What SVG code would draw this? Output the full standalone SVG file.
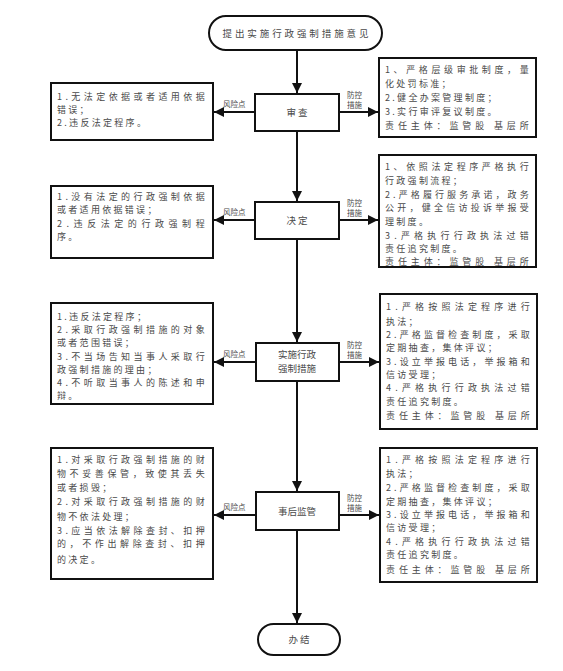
<svg xmlns="http://www.w3.org/2000/svg" width="563" height="671" viewBox="0 0 563 671">
<style>
text{font-family:"Noto Sans CJK SC","Noto Sans",sans-serif;fill:#4a4a4a;}
.t{font-size:9px;letter-spacing:2.3px;}
.lbl{font-size:9.5px;text-anchor:middle;}
.s{font-size:7.5px;}
.box{fill:#fff;stroke:#111;stroke-width:2;}
.ln{stroke:#111;stroke-width:2;fill:none;}
</style>
<defs>
<marker id="ah" viewBox="0 0 10 10" refX="10" refY="5" markerWidth="5" markerHeight="5" orient="auto" markerUnits="strokeWidth">
<path d="M0,0 L10,5 L0,10 z" fill="#111"/>
</marker>
</defs>
<rect width="563" height="671" fill="#fff"/>
<g id="connectors">
<line class="ln" x1="297" y1="50" x2="297" y2="93" marker-end="url(#ah)"/>
<line class="ln" x1="297" y1="131" x2="297" y2="201" marker-end="url(#ah)"/>
<line class="ln" x1="297" y1="239" x2="297" y2="342" marker-end="url(#ah)"/>
<line class="ln" x1="297" y1="381" x2="297" y2="491" marker-end="url(#ah)"/>
<line class="ln" x1="297" y1="530" x2="297" y2="623" marker-end="url(#ah)"/>
<line class="ln" x1="255" y1="112" x2="214" y2="112" marker-end="url(#ah)"/>
<line class="ln" x1="339" y1="112" x2="378" y2="112" marker-end="url(#ah)"/>
<line class="ln" x1="255" y1="220" x2="214" y2="220" marker-end="url(#ah)"/>
<line class="ln" x1="339" y1="220" x2="378" y2="220" marker-end="url(#ah)"/>
<line class="ln" x1="256" y1="362" x2="214" y2="362" marker-end="url(#ah)"/>
<line class="ln" x1="339" y1="362" x2="379" y2="362" marker-end="url(#ah)"/>
<line class="ln" x1="256" y1="515" x2="214" y2="515" marker-end="url(#ah)"/>
<line class="ln" x1="339" y1="515" x2="379" y2="515" marker-end="url(#ah)"/>
<text class="s" x="223" y="107">风险点</text>
<text class="s" x="347" y="98">防控</text>
<text class="s" x="347" y="108">措施</text>
<text class="s" x="223" y="215">风险点</text>
<text class="s" x="347" y="206">防控</text>
<text class="s" x="347" y="216">措施</text>
<text class="s" x="223" y="357">风险点</text>
<text class="s" x="347" y="348">防控</text>
<text class="s" x="347" y="358">措施</text>
<text class="s" x="223" y="510">风险点</text>
<text class="s" x="347" y="501">防控</text>
<text class="s" x="347" y="511">措施</text>
</g>
<g id="start">
<rect class="box" x="209" y="16" width="173" height="34" rx="17"/>
<text class="lbl" x="295.5" y="37" textLength="146" lengthAdjust="spacing">提出实施行政强制措施意见</text>
</g>
<g id="n1">
<rect class="box" x="255" y="94" width="84" height="37"/>
<text class="lbl" x="297" y="116">审 查</text>
</g>
<g id="n2">
<rect class="box" x="255" y="202" width="84" height="37"/>
<text class="lbl" x="297" y="224">决 定</text>
</g>
<g id="n3">
<rect class="box" x="256" y="343" width="83" height="38"/>
<text class="lbl" x="297" y="358">实施行政</text>
<text class="lbl" x="297" y="372">强制措施</text>
</g>
<g id="n4">
<rect class="box" x="256" y="492" width="83" height="38"/>
<text class="lbl" x="297" y="515">事后监管</text>
</g>
<g id="end">
<rect class="box" x="258" y="624" width="82" height="31" rx="15.5"/>
<text class="lbl" x="299" y="643">办 结</text>
</g>
<g id="r1">
<rect class="box" x="51" y="83" width="162" height="57"/>
<text class="t" x="57" y="100" textLength="150" lengthAdjust="spacing">1.无法定依据或者适用依据</text>
<text class="t" x="57" y="113">错误；</text>
<text class="t" x="57" y="126">2.违反法定程序。</text>
</g>
<g id="m1">
<rect class="box" x="379" y="58" width="157" height="79"/>
<text class="t" x="385" y="73" textLength="146" lengthAdjust="spacing">1、严格层级审批制度，量</text>
<text class="t" x="385" y="87">化处罚标准；</text>
<text class="t" x="385" y="101">2.健全办案管理制度；</text>
<text class="t" x="385" y="115">3.实行审评复议制度。</text>
<text class="t" x="385" y="129" textLength="146" lengthAdjust="spacing">责任主体：监管股 基层所</text>
</g>
<g id="r2">
<rect class="box" x="51" y="186" width="162" height="72"/>
<text class="t" x="57" y="200" textLength="150" lengthAdjust="spacing">1.没有法定的行政强制依据</text>
<text class="t" x="57" y="213">或者适用依据错误；</text>
<text class="t" x="57" y="227" textLength="150" lengthAdjust="spacing">2.违反法定的行政强制程</text>
<text class="t" x="57" y="240">序。</text>
</g>
<g id="m2">
<rect class="box" x="379" y="155" width="157" height="112"/>
<text class="t" x="385" y="170" textLength="146" lengthAdjust="spacing">1、依照法定程序严格执行</text>
<text class="t" x="385" y="184">行政强制流程；</text>
<text class="t" x="385" y="198" textLength="146" lengthAdjust="spacing">2.严格履行服务承诺，政务</text>
<text class="t" x="385" y="211" textLength="146" lengthAdjust="spacing">公开，健全信访投诉举报受</text>
<text class="t" x="385" y="225">理制度。</text>
<text class="t" x="385" y="239" textLength="146" lengthAdjust="spacing">3.严格执行行政执法过错</text>
<text class="t" x="385" y="252">责任追究制度。</text>
<text class="t" x="385" y="265" textLength="146" lengthAdjust="spacing">责任主体：监管股 基层所</text>
</g>
<g id="r3">
<rect class="box" x="51" y="303" width="162" height="101"/>
<text class="t" x="57" y="320">1.违反法定程序；</text>
<text class="t" x="57" y="333" textLength="150" lengthAdjust="spacing">2.采取行政强制措施的对象</text>
<text class="t" x="57" y="346">或者范围错误；</text>
<text class="t" x="57" y="360" textLength="150" lengthAdjust="spacing">3.不当场告知当事人采取行</text>
<text class="t" x="57" y="373">政强制措施的理由；</text>
<text class="t" x="57" y="386" textLength="150" lengthAdjust="spacing">4.不听取当事人的陈述和申</text>
<text class="t" x="57" y="399">辩。</text>
</g>
<g id="m3">
<rect class="box" x="380" y="294" width="157" height="135"/>
<text class="t" x="386" y="310" textLength="146" lengthAdjust="spacing">1.严格按照法定程序进行</text>
<text class="t" x="386" y="325">执法；</text>
<text class="t" x="386" y="338" textLength="146" lengthAdjust="spacing">2.严格监督检查制度，采取</text>
<text class="t" x="386" y="351">定期抽查，集体评议；</text>
<text class="t" x="386" y="365" textLength="146" lengthAdjust="spacing">3.设立举报电话，举报箱和</text>
<text class="t" x="386" y="378">信访受理；</text>
<text class="t" x="386" y="391" textLength="146" lengthAdjust="spacing">4.严格执行行政执法过错</text>
<text class="t" x="386" y="405">责任追究制度。</text>
<text class="t" x="386" y="419" textLength="146" lengthAdjust="spacing">责任主体：监管股 基层所</text>
</g>
<g id="r4">
<rect class="box" x="51" y="448" width="162" height="131"/>
<text class="t" x="57" y="463" textLength="150" lengthAdjust="spacing">1.对采取行政强制措施的财</text>
<text class="t" x="57" y="477" textLength="150" lengthAdjust="spacing">物不妥善保管，致使其丢失</text>
<text class="t" x="57" y="491">或者损毁；</text>
<text class="t" x="57" y="505" textLength="150" lengthAdjust="spacing">2.对采取行政强制措施的财</text>
<text class="t" x="57" y="520">物不依法处理；</text>
<text class="t" x="57" y="534" textLength="150" lengthAdjust="spacing">3.应当依法解除查封、扣押</text>
<text class="t" x="57" y="547" textLength="150" lengthAdjust="spacing">的，不作出解除查封、扣押</text>
<text class="t" x="57" y="563">的决定。</text>
</g>
<g id="m4">
<rect class="box" x="380" y="448" width="157" height="134"/>
<text class="t" x="386" y="463" textLength="146" lengthAdjust="spacing">1.严格按照法定程序进行</text>
<text class="t" x="386" y="477">执法；</text>
<text class="t" x="386" y="491" textLength="146" lengthAdjust="spacing">2.严格监督检查制度，采取</text>
<text class="t" x="386" y="505">定期抽查，集体评议；</text>
<text class="t" x="386" y="518" textLength="146" lengthAdjust="spacing">3.设立举报电话，举报箱和</text>
<text class="t" x="386" y="531">信访受理；</text>
<text class="t" x="386" y="545" textLength="146" lengthAdjust="spacing">4.严格执行行政执法过错</text>
<text class="t" x="386" y="558">责任追究制度。</text>
<text class="t" x="386" y="573" textLength="146" lengthAdjust="spacing">责任主体：监管股 基层所</text>
</g>
</svg>
